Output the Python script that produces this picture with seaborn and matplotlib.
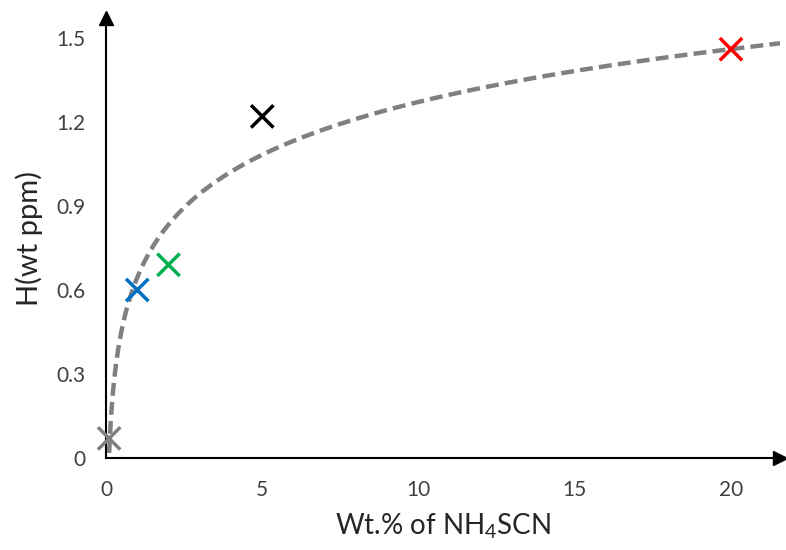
import numpy as np
import pandas as pd
import matplotlib
matplotlib.use("Agg")
import matplotlib.pyplot as plt
import seaborn as sns

# Data
samples = ["s0", "s1", "s2", "s5", "s20"]
wt_pct = [0.1, 1.0, 2.0, 5.0, 20.0]
h_ppm = [0.07, 0.60, 0.69, 1.22, 1.46]
colors = ["#808080", "#0070C0", "#00B050", "#000000", "#FF0000"]
xticks = [0, 5, 10, 15, 20]
yticks = [0, 0.3, 0.6, 0.9, 1.2, 1.5]
ytick_labels = ["0", "0.3", "0.6", "0.9", "1.2", "1.5"]

sns.set_theme(style="white")
plt.rcParams["font.family"] = ["Lato", "DejaVu Sans"]
plt.rcParams["mathtext.fontset"] = "custom"
plt.rcParams["mathtext.rm"] = "Lato"

df = pd.DataFrame({"sample": samples, "x": wt_pct, "y": h_ppm})

# Logarithmic trendline fitted to data
a, b = np.polyfit(np.log(df["x"]), df["y"], 1)
xs = np.linspace(min(wt_pct), 22, 400)
trend = pd.DataFrame({"x": xs, "y": a * np.log(xs) + b})

fig = plt.figure(figsize=(7.86, 5.5), dpi=100)
ax = fig.add_axes([106 / 786, 92 / 550, (780 - 106) / 786, (458 - 18) / 550])

sns.lineplot(data=trend, x="x", y="y", ax=ax, color="#808080", linewidth=3.2,
             dashes=False, zorder=1)
ax.lines[-1].set_dashes((2.9, 1.4))
ax.lines[-1].set_dash_capstyle("butt")

sns.scatterplot(data=df, x="x", y="y", hue="sample", palette=colors, marker="x",
                s=260, linewidth=2.5, legend=False, ax=ax, zorder=3, clip_on=False)

ax.set_xlim(0, (780 - 106) / 31.25)
ax.set_ylim(0, (458 - 18) / 280)

for s in ["top", "right"]:
    ax.spines[s].set_visible(False)
for s in ["left", "bottom"]:
    ax.spines[s].set_color("black")
    ax.spines[s].set_linewidth(1.5)

ax.plot(1, 0, ">", color="black", markersize=10, transform=ax.transAxes, clip_on=False)
ax.plot(0, 1, "^", color="black", markersize=10, transform=ax.transAxes, clip_on=False)

ax.set_xticks(xticks)
ax.set_yticks(yticks)
ax.set_yticklabels(ytick_labels)
ax.tick_params(axis="both", which="major", direction="inout", length=11.5, width=1.2,
               color="black", labelsize=15, labelcolor="#404040")
ax.tick_params(axis="x", pad=10)
ax.tick_params(axis="y", pad=9)

ax.set_xlabel("Wt.% of NH$_\\mathregular{4}$SCN", fontsize=20, color="#262626", labelpad=8)
ax.set_ylabel("H(wt ppm)", fontsize=21, color="#262626", labelpad=10)

fig.savefig("out.png", dpi=100)
